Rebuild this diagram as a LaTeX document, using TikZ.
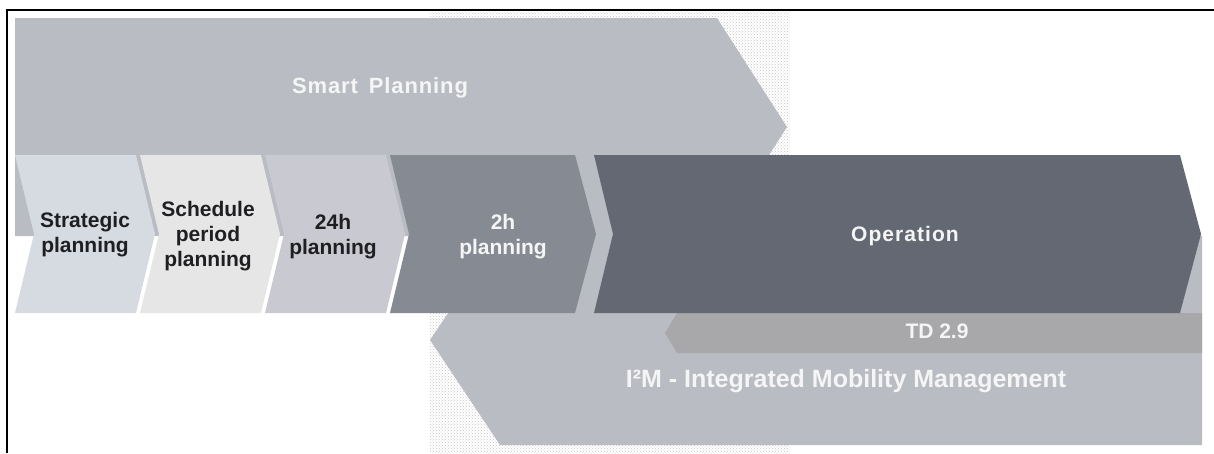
\documentclass[tikz,border=0pt]{standalone}
\usepackage{fontspec}
\setmainfont{Liberation Sans}
\usepackage{xcolor}
\usetikzlibrary{patterns}
\definecolor{smartgray}{HTML}{B9BCC3}
\definecolor{stratgray}{HTML}{D6DBE1}
\definecolor{schedgray}{HTML}{E6E6E7}
\definecolor{daygray}{HTML}{C9C9D1}
\definecolor{hourgray}{HTML}{868A93}
\definecolor{opgray}{HTML}{646873}
\definecolor{tdgray}{HTML}{A8A8AA}
\definecolor{labelblack}{HTML}{1F1F22}

\begin{document}
\begin{tikzpicture}[
      x=1pt,y=-1pt,
      steplabel/.style={font=\bfseries\fontsize{21}{25}\selectfont,align=center,
                        text=labelblack},
      whitelabel/.style={font=\bfseries\fontsize{21}{25}\selectfont,align=center,
                         text=white!96!black},
      biglabel/.style={font=\bfseries\fontsize{25}{28}\selectfont,text=white!96!black}
    ]
    \useasboundingbox (0,0) rectangle (1214,453);
    % dotted backdrop
    \fill[pattern=crosshatch dots,pattern color=gray!45] (430,10) rectangle (790,453);
    % frame
    \draw[line width=2.5pt] (7,453) -- (7,10) -- (1214,10);
    % long bands
    \fill[smartgray] (15,18) -- (717,18) -- (787,127) -- (717,236) -- (15,236) -- cycle;
    \fill[smartgray] (500,236) -- (1202,236) -- (1202,445) -- (500,445) -- (430,340) -- cycle;
    \fill[tdgray] (677,313) -- (1202,313) -- (1202,353) -- (677,353) -- (665,333) -- cycle;
    % planning steps
    \fill[stratgray] (15,155) -- (136,155) -- (155,234) -- (136,313) -- (15,313)
      -- (34,234) -- cycle;
    \fill[schedgray] (140,155) -- (261,155) -- (280,234) -- (261,313) -- (140,313)
      -- (159,234) -- cycle;
    \fill[daygray] (265,155) -- (386,155) -- (405,234) -- (386,313) -- (265,313)
      -- (284,234) -- cycle;
    \fill[hourgray] (390,155) -- (575,155) -- (596,234) -- (575,313) -- (390,313)
      -- (409,234) -- cycle;
    \fill[opgray] (594,155) -- (1180,155) -- (1201,234) -- (1180,313) -- (594,313)
      -- (613,234) -- cycle;
    % labels
    \node[whitelabel,font=\bfseries\fontsize{22}{26}\selectfont\addfontfeature{LetterSpace=4}]
      (smart) at (380,88) {Smart\hspace{4pt} Planning};
    \node[steplabel] (strat) at (85,235) {Strategic\\planning};
    \node[steplabel] (sched) at (208,236) {Schedule\\period\\planning};
    \node[steplabel] (day) at (333,237) {24h\\planning};
    \node[whitelabel] (hour) at (503,237) {2h\\planning};
    \node[whitelabel,font=\bfseries\fontsize{21}{25}\selectfont\addfontfeature{LetterSpace=5}]
      (op) at (905,236) {Operation};
    \node[whitelabel] (td) at (937,331) {TD 2.9};
    \node[biglabel] (imm) at (846,381) {I²M - Integrated Mobility Management};
  \end{tikzpicture}
\end{document}
